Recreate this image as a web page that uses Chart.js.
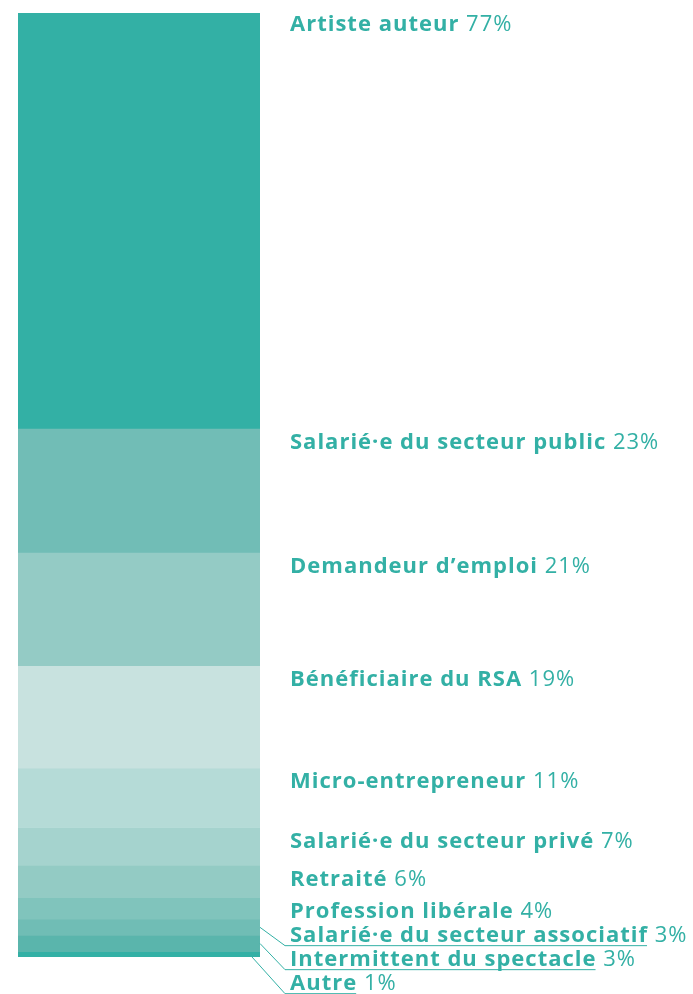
<!DOCTYPE html>
<html>
<head>
<meta charset="utf-8">
<script src="https://cdn.jsdelivr.net/npm/chart.js@4"></script>
<style>
  body { margin: 0; background: #fff; }
  #wrap { width: 693px; height: 994px; }
</style>
</head>
<body>
<div id="wrap"><canvas id="statutChart" width="693" height="994"></canvas></div>
<script>
// statuts, du haut vers le bas de la barre
const statuts = [
    'Artiste auteur',
    'Salarié·e du secteur public',
    'Demandeur d’emploi',
    'Bénéficiaire du RSA',
    'Micro-entrepreneur',
    'Salarié·e du secteur privé',
    'Retraité',
    'Profession libérale',
    'Salarié·e du secteur associatif',
    'Intermittent du spectacle',
    'Autre'
];
const pourcentages = [77, 23, 21, 19, 11, 7, 6, 4, 3, 3, 1];
const couleurs = [
    '#33b0a5', '#71bdb6', '#94cbc5', '#c8e2df', '#b5dbd7', '#a5d3ce',
    '#93cbc4', '#80c4bc', '#70bdb5', '#5ab5ac', '#33b0a5'
];

const TEXT_COLOR = '#33b0a5';
const FONT = '"Open Sans", sans-serif';
const FONT_SIZE = 22;

const total = pourcentages.reduce((a, b) => a + b, 0);

// labels a droite de la barre (+ traits pour les petits segments)
const labelPlugin = {
    id: 'labelPlugin',
    afterDatasetsDraw(chart) {
        const ctx = chart.ctx;
        const textX = 290;
        let prevY = null;
        ctx.save();
        ctx.textBaseline = 'middle';
        ctx.fillStyle = TEXT_COLOR;
        ctx.letterSpacing = '1px';
        chart.data.datasets.forEach((ds, i) => {
            const bar = chart.getDatasetMeta(i).data[0];
            const top = Math.min(bar.y, bar.base);
            const bottom = Math.max(bar.y, bar.base);
            const right = bar.x + bar.width / 2;
            const small = i >= 8;
            let y = small ? prevY + 24 : top + (i === 0 ? 12 : 14);
            prevY = y;

            ctx.font = 'bold ' + FONT_SIZE + 'px ' + FONT;
            const name = ds.label;
            const nameW = ctx.measureText(name).width;
            ctx.fillText(name, textX, y);
            ctx.font = FONT_SIZE + 'px ' + FONT;
            ctx.fillText(' ' + pourcentages[i] + '%', textX + nameW, y);

            if (small) {
                const lineY = y + 10;
                const last = i === chart.data.datasets.length - 1;
                const startX = last ? right - 8 : right;
                const startY = last ? bottom : (top + bottom) / 2;
                ctx.strokeStyle = TEXT_COLOR;
                ctx.lineWidth = 1;
                ctx.beginPath();
                ctx.moveTo(startX, startY);
                ctx.lineTo(textX - 5, lineY);
                ctx.lineTo(textX + nameW - 1, lineY);
                ctx.stroke();
            }
        });
        ctx.restore();
    }
};

const ctx = document.getElementById('statutChart').getContext('2d');
const statutChart = new Chart(ctx, {
    type: 'bar',
    data: {
        labels: ['Statut'],
        datasets: statuts.map((s, i) => ({
            label: s,
            data: [pourcentages[i]],
            backgroundColor: couleurs[i],
            borderWidth: 0,
            barPercentage: 1,
            categoryPercentage: 1
        }))
    },
    options: {
        responsive: false,
        animation: false,
        layout: {
            padding: { left: 18, right: 433, top: 13, bottom: 37 }
        },
        scales: {
            x: { stacked: true, display: false },
            y: { stacked: true, display: false, min: 0, max: total, reverse: true }
        },
        plugins: {
            legend: { display: false },
            tooltip: { enabled: false }
        }
    },
    plugins: [labelPlugin]
});
</script>
</body>
</html>
